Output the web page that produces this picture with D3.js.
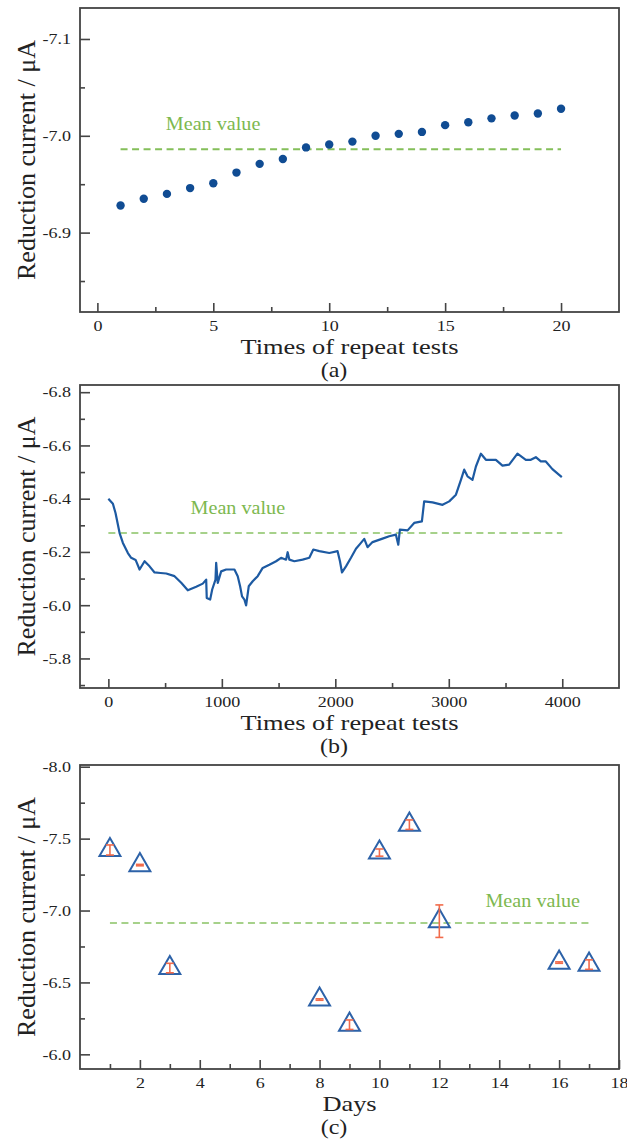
<!DOCTYPE html>
<html>
<head>
<meta charset="utf-8">
<script src="https://cdn.jsdelivr.net/npm/d3@7/dist/d3.min.js"></script>
<style>
body { margin: 0; background: #fff; }
text { font-family: "Liberation Serif", "Times New Roman", serif; fill: #222; }
</style>
</head>
<body>
<div id="chart"></div>
<script>
// ---- data ----
// (a) 20 repeat tests
var testsA = d3.range(1, 21);
var currentA = [-6.928, -6.935, -6.940, -6.946, -6.951, -6.962, -6.971, -6.976, -6.988, -6.991,
                -6.994, -7.000, -7.002, -7.004, -7.011, -7.014, -7.018, -7.021, -7.023, -7.028];
var meanA = -6.986;

// (b) 4000 repeat tests (traced)
var timesB = [0, 40, 63, 99, 128, 172, 201, 240, 275, 319, 363, 407, 460, 510, 583, 642, 700, 774, 832, 862,
              867, 897, 915, 944, 950, 964, 994, 1038, 1111, 1140, 1161, 1178, 1199, 1214, 1237, 1272, 1316,
              1360, 1419, 1478, 1522, 1566, 1580, 1595, 1639, 1712, 1771, 1806, 1859, 1947, 2020, 2041, 2059,
              2094, 2138, 2182, 2226, 2255, 2284, 2328, 2416, 2475, 2534, 2555, 2569, 2637, 2695, 2763, 2783,
              2857, 2945, 3004, 3063, 3107, 3136, 3165, 3209, 3239, 3283, 3327, 3415, 3473, 3532, 3605, 3679,
              3723, 3767, 3811, 3855, 3913, 3996];
var currentB = [-6.400, -6.381, -6.346, -6.271, -6.234, -6.196, -6.178, -6.170, -6.134, -6.165, -6.146, -6.123, -6.121, -6.119, -6.109, -6.084, -6.056, -6.069, -6.081, -6.096,
                -6.027, -6.021, -6.059, -6.096, -6.159, -6.084, -6.127, -6.134, -6.134, -6.109, -6.071, -6.033, -6.021, -5.999, -6.071, -6.090, -6.109,
                -6.140, -6.152, -6.165, -6.178, -6.171, -6.199, -6.171, -6.165, -6.171, -6.178, -6.209, -6.203, -6.196, -6.203, -6.165, -6.123,
                -6.146, -6.178, -6.212, -6.234, -6.249, -6.218, -6.237, -6.250, -6.259, -6.265, -6.227, -6.284, -6.281, -6.309, -6.315, -6.390,
                -6.386, -6.377, -6.390, -6.415, -6.471, -6.509, -6.484, -6.471, -6.521, -6.569, -6.546, -6.546, -6.524, -6.528, -6.569, -6.546,
                -6.546, -6.556, -6.540, -6.540, -6.511, -6.481];
var meanB = -6.271;

// (c) stability over days
var daysC = [1, 2, 3, 8, 9, 10, 11, 12, 16, 17];
var currentC = [-7.421, -7.316, -6.600, -6.381, -6.206, -7.403, -7.597, -6.926, -6.638, -6.624];
var errC = [0.035, 0.005, 0.033, 0.005, 0.033, 0.025, 0.033, 0.113, 0.005, 0.033];
var meanC = -6.913;

var xTicksA = [0, 5, 10, 15, 20], xMinorA = [2.5, 7.5, 12.5, 17.5];
var yTicksA = [-7.1, -7.0, -6.9], yMinorA = [-7.05, -6.95, -6.85];
var xTicksB = [0, 1000, 2000, 3000, 4000], xMinorB = [500, 1500, 2500, 3500];
var yTicksB = [-6.8, -6.6, -6.4, -6.2, -6.0, -5.8], yMinorB = [-6.7, -6.5, -6.3, -6.1, -5.9, -5.7];
var xTicksC = [2, 4, 6, 8, 10, 12, 14, 16, 18], xMinorC = [1, 3, 5, 7, 9, 11, 13, 15, 17];
var yTicksC = [-8.0, -7.5, -7.0, -6.5, -6.0], yMinorC = [-7.75, -7.25, -6.75, -6.25];

// ---- layout ----
var width = 627, height = 1142;
var left = 80, right = 619;
var stretch = 1.2; // the source figure's lettering is wide
var svg = d3.select('#chart').append('svg').attr('width', width).attr('height', height);
var axisColor = '#444';
var blue = '#104c93', green = '#7db84f', greenLight = '#a6d18a';

// horizontal text, widened like the original
function wideText(g, x, y, size, anchor, str, sx) {
	return g.append('text')
		.attr('transform', 'translate(' + x + ',' + y + ') scale(' + (sx || stretch) + ',1)')
		.attr('text-anchor', anchor)
		.style('font-size', size + 'px')
		.text(str);
}

function panel(top, bottom, xDom, yDom, xT, xM, yT, yM, xTitle, tag) {
	var g = svg.append('g');
	var x = d3.scaleLinear().domain(xDom).range([left, right]);
	var y = d3.scaleLinear().domain(yDom).range([bottom, top]);

	// minor ticks
	g.append('g').attr('transform', 'translate(0,' + bottom + ')')
		.call(d3.axisBottom(x).tickValues(xM).tickSize(-5).tickFormat(''));
	g.append('g').attr('transform', 'translate(' + left + ',0)')
		.call(d3.axisLeft(y).tickValues(yM).tickSize(-5).tickFormat(''));
	// major ticks + labels
	g.append('g').attr('transform', 'translate(0,' + bottom + ')')
		.call(d3.axisBottom(x).tickValues(xT).tickSize(-9).tickPadding(8).tickFormat(d3.format('d')));
	g.append('g').attr('transform', 'translate(' + left + ',0)')
		.call(d3.axisLeft(y).tickValues(yT).tickSize(-10).tickPadding(7.5).tickFormat(function(d) { return d.toFixed(1); }));

	g.selectAll('.domain').remove();
	g.selectAll('g').attr('font-family', null).attr('font-size', null);
	g.selectAll('.tick line').attr('stroke', axisColor).attr('stroke-width', 1.6);
	g.selectAll('.tick text')
		.attr('transform', 'scale(' + stretch + ',1)')
		.style('font-size', '15px').attr('fill', '#333');

	g.append('rect')
		.attr('x', left).attr('y', top)
		.attr('width', right - left).attr('height', bottom - top)
		.attr('fill', 'none').attr('stroke', axisColor).attr('stroke-width', 1.8);

	wideText(g, (left + right) / 2, bottom + 42, 22, 'middle', xTitle);
	wideText(g, 334, bottom + 65, 20, 'middle', tag);
	g.append('text')
		.attr('transform', 'translate(35,' + (top + bottom) / 2 + ') rotate(-90)')
		.attr('text-anchor', 'middle').style('font-size', '26px')
		.text('Reduction current / \u03bcA');

	return {g: g, x: x, y: y};
}

function meanLine(p, x0, x1, value, color, labelX, labelDy) {
	p.g.append('line')
		.attr('x1', p.x(x0)).attr('x2', p.x(x1))
		.attr('y1', p.y(value)).attr('y2', p.y(value))
		.attr('stroke', color).attr('stroke-width', 2)
		.attr('stroke-dasharray', '7,4.5');
	wideText(p.g, p.x(labelX), p.y(value) - labelDy, 18, 'start', 'Mean value', 1.12)
		.style('fill', green);
}

// ---- (a) ----
var pa = panel(8, 312, [-0.75, 22.5], [-6.818, -7.132], xTicksA, xMinorA, yTicksA, yMinorA,
	'Times of repeat tests', '(a)');
meanLine(pa, 1, 20, meanA, '#84bf5a', 2.95, 19);
pa.g.selectAll('circle.pt')
	.data(testsA)
	.enter()
	.append('circle')
	.attr('class', 'pt')
	.attr('cx', function(d) { return pa.x(d); })
	.attr('cy', function(d, i) { return pa.y(currentA[i]); })
	.attr('r', 4.2)
	.attr('fill', blue);

// ---- (b) ----
var pb = panel(385, 688, [-250, 4500], [-5.689, -6.827], xTicksB, xMinorB, yTicksB, yMinorB,
	'Times of repeat tests', '(b)');
meanLine(pb, 0, 4000, meanB, greenLight, 724, 19);
var lineB = d3.line()
	.x(function(d) { return pb.x(timesB[d]); })
	.y(function(d) { return pb.y(currentB[d]); });
pb.g.append('path')
	.attr('d', lineB(d3.range(timesB.length)))
	.attr('fill', 'none')
	.attr('stroke', '#1d5aa2')
	.attr('stroke-width', 2.2)
	.attr('stroke-linejoin', 'round');

// ---- (c) ----
var pc = panel(765, 1069, [0, 18], [-5.898, -8.012], xTicksC, xMinorC, yTicksC, yMinorC,
	'Days', '(c)');
meanLine(pc, 1, 17, meanC, greenLight, 13.54, 16);

var tri = d3.symbol().type(d3.symbolTriangle).size(190);
pc.g.selectAll('path.tri')
	.data(daysC)
	.enter()
	.append('path')
	.attr('class', 'tri')
	.attr('d', tri)
	.attr('transform', function(d, i) { return 'translate(' + pc.x(d) + ',' + pc.y(currentC[i]) + ')'; })
	.attr('fill', 'none')
	.attr('stroke', '#2d62a8')
	.attr('stroke-width', 2);

// error bars
var eb = pc.g.selectAll('g.err')
	.data(daysC)
	.enter()
	.append('g')
	.attr('class', 'err')
	.attr('stroke', '#f26b4b')
	.attr('stroke-width', 1.6);
eb.append('line')
	.attr('x1', function(d) { return pc.x(d); })
	.attr('x2', function(d) { return pc.x(d); })
	.attr('y1', function(d, i) { return pc.y(currentC[i] - errC[i]); })
	.attr('y2', function(d, i) { return pc.y(currentC[i] + errC[i]); });
[-1, 1].forEach(function(s) {
	eb.append('line')
		.attr('x1', function(d) { return pc.x(d) - 4; })
		.attr('x2', function(d) { return pc.x(d) + 4; })
		.attr('y1', function(d, i) { return pc.y(currentC[i] + s * errC[i]); })
		.attr('y2', function(d, i) { return pc.y(currentC[i] + s * errC[i]); });
});
</script>
</body>
</html>
